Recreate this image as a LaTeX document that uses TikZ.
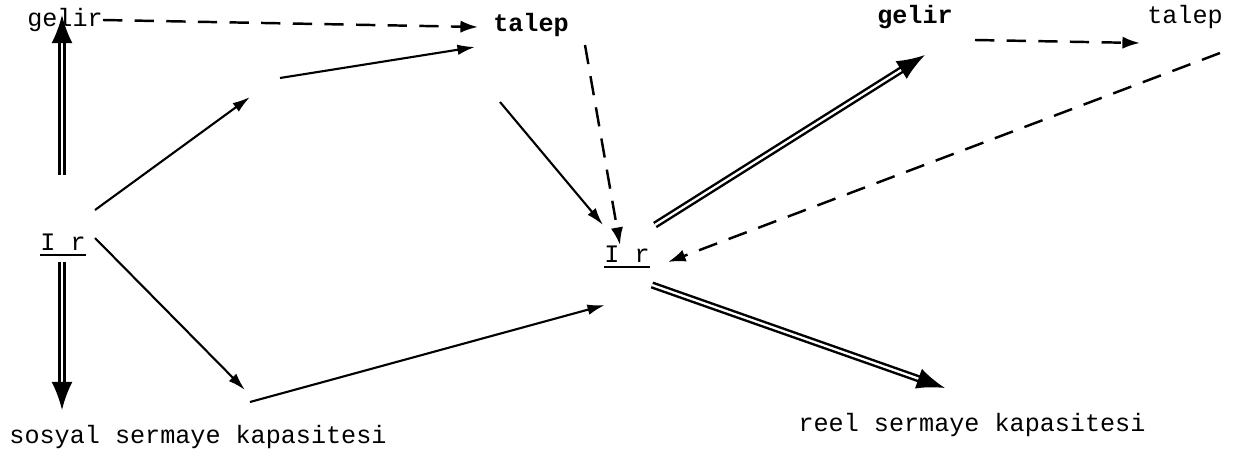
\documentclass[tikz,border=0pt]{standalone}
\usepackage{fontspec}
\setmonofont{Liberation Mono}
\usetikzlibrary{arrows.meta,calc}

\newcommand{\thickul}[1]{\setbox0\hbox{#1}\rlap{\rule[-3.5pt]{\wd0}{1.6pt}}\box0}

\tikzset{
  lbl/.style={font=\ttfamily\fontsize{14.3}{16}\selectfont, inner sep=1pt},
  boldlbl/.style={lbl, font=\ttfamily\bfseries\fontsize{14.3}{16}\selectfont},
  solidarr/.style={-{Latex[length=10pt,width=6pt]}, line width=1.2pt},
  dasharr/.style={-{Latex[length=10pt,width=7pt]}, line width=1.4pt, dash pattern=on 11pt off 7pt},
  dblarr/.style={-{Latex[length=16pt,width=12pt]}, double, double distance=1.3pt, line width=1.4pt}
}

\begin{document}
\begin{tikzpicture}[x=0.2mm,y=-0.2mm]
    \useasboundingbox (0,0) rectangle (1247,457);

    \node[lbl] (gelirL) at (65,20) {gelir};
    \node[boldlbl] (talepM) at (531,25) {talep};
    \node[boldlbl] (gelirR) at (915,17) {gelir};
    \node[lbl] (talepR) at (1185,17) {talep};

    \node[lbl] (IrL) at (63,245) {\thickul{I r}};
    \node[lbl] (IrR) at (627,257) {\thickul{I r}};

    \coordinate (top) at (265,88);
    \coordinate (bot) at (248,396);

    \node[lbl] (sosyal) at (198,437) {sosyal sermaye kapasitesi};
    \node[lbl] (reel) at (972,425) {reel sermaye kapasitesi};

    % left side
    \draw[dblarr] ($(IrL)+(-1,-70)$) -- ($(gelirL)+(-3,-5)$);
    \draw[dblarr] ($(IrL)+(-1,17)$) -- ($(IrL)+(-1,165)$);
    \draw[dasharr] ($(gelirL)+(38,0)$) -- ($(talepM)+(-53,2)$);

    \draw[solidarr] ($(IrL)+(32,-35)$) -- ($(top)+(-15,9)$);
    \draw[solidarr] ($(top)+(15,-10)$) -- ($(talepM)+(-56,22)$);
    \draw[solidarr] ($(IrL)+(32,-7)$) -- ($(bot)+(-3,-6)$);
    \draw[solidarr] ($(bot)+(2,6)$) -- ($(IrR)+(-22,48)$);

    % into the right I r
    \draw[solidarr] ($(talepM)+(-31,77)$) -- ($(IrR)+(-24,-32)$);
    \draw[dasharr] ($(talepM)+(54,20)$) -- ($(IrR)+(-7,-12)$);
    \draw[dasharr] ($(talepR)+(35,36)$) -- ($(IrR)+(41,5)$);

    % right side
    \draw[dblarr] ($(IrR)+(28,-32)$) -- ($(gelirR)+(10,38)$);
    \draw[dasharr] ($(gelirR)+(60,23)$) -- ($(talepR)+(-45,26)$);
    \draw[dblarr] ($(IrR)+(25,28)$) -- ($(reel)+(-27,-37)$);
\end{tikzpicture}
\end{document}
